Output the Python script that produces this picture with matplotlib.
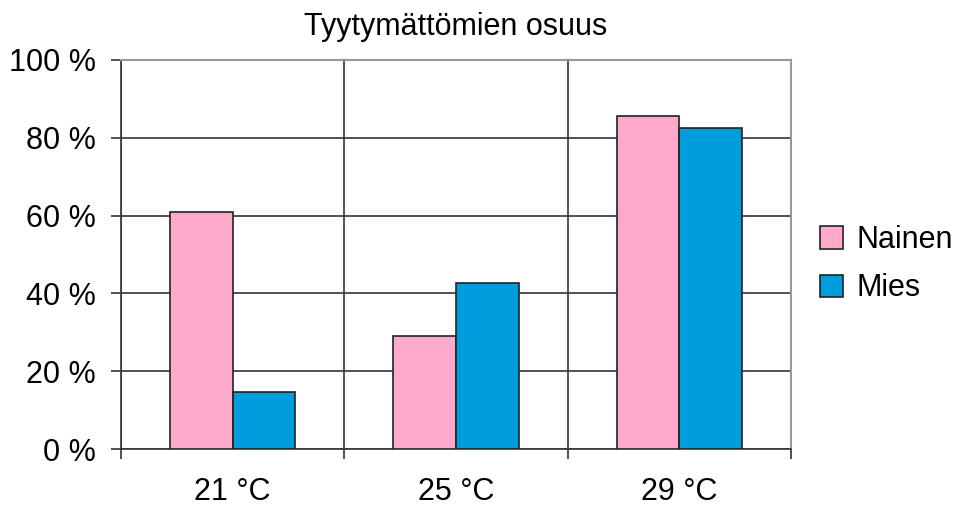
import matplotlib.pyplot as plt
import numpy as np

plt.rcParams['font.family'] = ['Liberation Sans', 'DejaVu Sans']

categories = ['21 °C', '25 °C', '29 °C']
nainen = [60.8, 29.0, 85.6]
mies = [14.6, 42.8, 82.6]

fig = plt.figure(figsize=(9.6, 5.11), dpi=100)
ax = fig.add_axes([0.126, 0.121, 0.698, 0.762])

x = np.arange(len(categories)) + 0.5
w = 0.28
ax.bar(x - w / 2, nainen, w, color='#ffaacc', edgecolor='#222222', linewidth=1.2, label='Nainen', zorder=3)
ax.bar(x + w / 2, mies, w, color='#009ddc', edgecolor='#222222', linewidth=1.2, label='Mies', zorder=3)

ax.set_xlim(0, 3)
ax.set_ylim(0, 100)
ax.set_yticks(np.arange(0, 101, 20))
ax.set_yticklabels([f'{v} %' for v in range(0, 101, 20)])
ax.set_xticks(x)
ax.set_xticklabels(categories)
ax.set_xticks(np.arange(0, 4), minor=True)

ax.tick_params(axis='x', which='major', length=0, pad=20, labelsize=22)
ax.tick_params(axis='x', which='minor', length=7, width=1.2, color='#333333', direction='out')
ax.tick_params(axis='y', length=7, width=1.2, color='#333333', pad=11, labelsize=22)

ax.grid(axis='y', color='#333333', linewidth=1.2, zorder=0)
ax.grid(axis='x', which='minor', color='#333333', linewidth=1.2, zorder=0)

for s in ['left', 'bottom']:
    ax.spines[s].set_color('#333333')
    ax.spines[s].set_linewidth(1.2)
for s in ['top', 'right']:
    ax.spines[s].set_color('#999999')
    ax.spines[s].set_linewidth(1.5)

ax.set_title('Tyytymättömien osuus', fontsize=22, pad=18)

ax.legend(loc='center left', bbox_to_anchor=(1.025, 0.475), frameon=False, fontsize=22,
          handlelength=0.75, handleheight=0.75, handletextpad=0.45, labelspacing=0.6,
          borderaxespad=0)

fig.savefig('out.png', dpi=100)
